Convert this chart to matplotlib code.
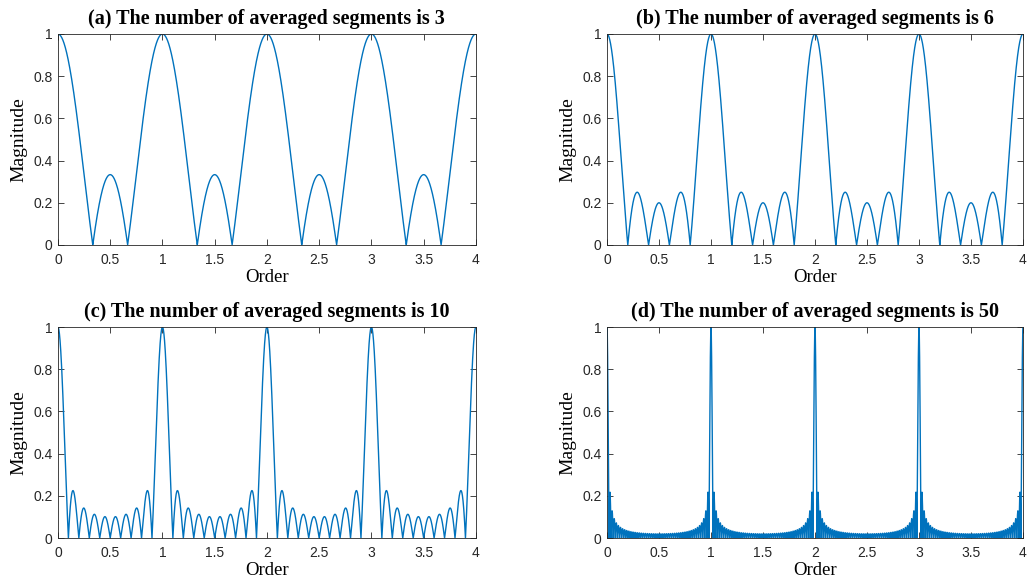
import numpy as np
import matplotlib
matplotlib.use("Agg")
import matplotlib.pyplot as plt

# === DATA ===
segments = [3, 6, 10, 50]          # number shown in each title
averaged = [3, 5, 10, 50]          # phasors actually averaged (lobe count)
panel_tags = ["(a)", "(b)", "(c)", "(d)"]
order = np.linspace(0, 4, 4001)
x_ticks = [0, 0.5, 1, 1.5, 2, 2.5, 3, 3.5, 4]
y_ticks = [0, 0.2, 0.4, 0.6, 0.8, 1]

# magnitude of the average of N unit phasors spaced by the order
magnitude = [np.abs(np.exp(2j * np.pi * np.outer(order, np.arange(n))).mean(axis=1))
             for n in averaged]

# === Plot setup ===
fig = plt.figure(figsize=(10.33, 5.79), dpi=100)
boxes = [
    [0.0561, 0.5769, 0.4046, 0.3644],
    [0.5876, 0.5769, 0.4027, 0.3644],
    [0.0561, 0.0708, 0.4046, 0.3644],
    [0.5876, 0.0708, 0.4027, 0.3644],
]
axis_col = "#262626"

for box, tag, n, mag in zip(boxes, panel_tags, segments, magnitude):
    ax = fig.add_axes(box)
    ax.plot(order, mag, color="#0072BD", lw=1.0)
    ax.set_xlim(0, 4)
    ax.set_ylim(0, 1)
    ax.set_xticks(x_ticks)
    ax.set_xticklabels([f"{t:g}" for t in x_ticks], family="Liberation Sans")
    ax.set_yticks(y_ticks)
    ax.set_yticklabels([f"{t:g}" for t in y_ticks], family="Liberation Sans")
    ax.tick_params(direction="in", top=True, right=True, length=4,
                   labelsize=10, colors=axis_col, width=0.6)
    ax.tick_params(axis="x", pad=6)
    ax.tick_params(axis="y", pad=4)
    for s in ax.spines.values():
        s.set_color(axis_col)
        s.set_linewidth(0.6)
    ax.set_title(f"{tag} The number of averaged segments is {n}",
                 family="Liberation Serif", fontweight="bold", fontsize=14.5, pad=7)
    ax.set_xlabel("Order", family="Liberation Serif", fontsize=13.5, labelpad=1)
    ax.set_ylabel("Magnitude", family="Liberation Serif", fontsize=14, labelpad=4)

fig.savefig("out.png", dpi=100)
